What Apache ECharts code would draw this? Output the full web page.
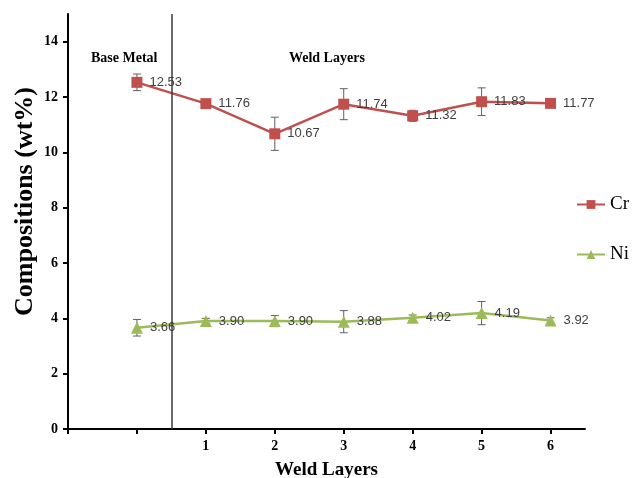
<!DOCTYPE html>
<html>
<head>
<meta charset="utf-8">
<script src="https://cdn.jsdelivr.net/npm/echarts@6/dist/echarts.min.js"></script>
<style>html,body{margin:0;padding:0;background:#fff}#c{width:632px;height:478px}</style>
</head>
<body>
<div id="c"></div>
<script>
// x positions: 0 = Base Metal, 1..6 = weld layers
const xPos = [0, 1, 2, 3, 4, 5, 6];
const xTickLabels = [1, 2, 3, 4, 5, 6];
const crValues = [12.53, 11.76, 10.67, 11.74, 11.32, 11.83, 11.77];
const crErr = [0.3, 0.1, 0.6, 0.56, 0.2, 0.5, 0.1];
const niValues = [3.66, 3.90, 3.90, 3.88, 4.02, 4.19, 3.92];
const niErr = [0.3, 0.1, 0.2, 0.4, 0.1, 0.42, 0.1];
const yTickValues = [0, 2, 4, 6, 8, 10, 12, 14];
const dividerX = 0.5;

const serif = '"Liberation Serif", "Times New Roman", serif';
const crColor = '#c0504d';
const niColor = '#9bbb59';

function pairs(vals) { return xPos.map((x, i) => [x, vals[i]]); }
function errData(vals, errs) { return xPos.map((x, i) => [x, vals[i] - errs[i], vals[i] + errs[i]]); }

function errRender(params, api) {
  const lo = api.coord([api.value(0), api.value(1)]);
  const hi = api.coord([api.value(0), api.value(2)]);
  const w = 4;
  const style = { stroke: '#606060', lineWidth: 1 };
  return {
    type: 'group',
    children: [
      { type: 'line', shape: { x1: lo[0], y1: lo[1], x2: hi[0], y2: hi[1] }, style },
      { type: 'line', shape: { x1: lo[0] - w, y1: lo[1], x2: lo[0] + w, y2: lo[1] }, style },
      { type: 'line', shape: { x1: hi[0] - w, y1: hi[1], x2: hi[0] + w, y2: hi[1] }, style }
    ]
  };
}

const labelStyle = {
  show: true, position: 'right', distance: 7,
  fontFamily: '"Liberation Sans", Arial, sans-serif', fontSize: 13, color: '#404040',
  formatter: p => p.value[1].toFixed(2)
};

const chart = echarts.init(document.getElementById('c'), null, { renderer: 'canvas' });
chart.setOption({
  animation: false,
  backgroundColor: '#fff',
  grid: { left: 68, right: 47, top: 14, bottom: 49, containLabel: false, outerBoundsMode: 'none' },
  legend: {
    data: ['Cr', 'Ni'],
    orient: 'vertical',
    left: 576, top: 195, padding: 0,
    itemGap: 31, itemWidth: 28, itemHeight: 11,
    textStyle: { fontFamily: serif, fontSize: 19, color: '#000' }
  },
  graphic: [
    { type: 'text', left: 91, top: 51, style: { text: 'Base Metal', font: 'bold 14px ' + serif, fill: '#000' } },
    { type: 'text', left: 289, top: 51, style: { text: 'Weld Layers', font: 'bold 14px ' + serif, fill: '#000' } }
  ],
  xAxis: {
    type: 'value', min: -1, max: 6.5,
    name: 'Weld Layers', nameLocation: 'middle', nameGap: 32,
    nameTextStyle: { fontFamily: serif, fontWeight: 'bold', fontSize: 19, color: '#000' },
    axisLine: { show: true, onZero: false, lineStyle: { color: '#000', width: 2 } },
    axisTick: { show: true, length: 5, customValues: [-1].concat(xPos), lineStyle: { color: '#000', width: 2 } },
    axisLabel: { customValues: xTickLabels, margin: 10, fontFamily: serif, fontWeight: 'bold', fontSize: 14, color: '#000' },
    splitLine: { show: false }
  },
  yAxis: {
    type: 'value', min: 0, max: 15,
    name: 'Compositions (wt%)', nameLocation: 'middle', nameGap: 30, nameRotate: 90,
    nameMoveOverlap: false,
    nameTextStyle: { fontFamily: serif, fontWeight: 'bold', fontSize: 26, color: '#000', padding: [0, 0, 0, 40] },
    axisLine: { show: true, onZero: false, lineStyle: { color: '#000', width: 2 } },
    axisTick: { show: true, length: 5, customValues: yTickValues, lineStyle: { color: '#000', width: 2 } },
    axisLabel: { customValues: yTickValues, margin: 10, fontFamily: serif, fontWeight: 'bold', fontSize: 14, color: '#000' },
    splitLine: { show: false }
  },
  series: [
    {
      name: 'Cr err', type: 'custom', renderItem: errRender, data: errData(crValues, crErr), z: 3,
      encode: { x: 0, y: [1, 2] }, silent: true
    },
    {
      name: 'Ni err', type: 'custom', renderItem: errRender, data: errData(niValues, niErr), z: 3,
      encode: { x: 0, y: [1, 2] }, silent: true
    },
    {
      name: 'Cr', type: 'line', data: pairs(crValues), z: 4,
      symbol: 'rect', symbolSize: 11,
      itemStyle: { color: crColor }, lineStyle: { color: crColor, width: 2.5 },
      label: labelStyle,
      markLine: {
        silent: true, symbol: 'none', label: { show: false },
        lineStyle: { color: '#3a3a3a', width: 1.5, type: 'solid' },
        data: [{ xAxis: dividerX }]
      }
    },
    {
      name: 'Ni', type: 'line', data: pairs(niValues), z: 4,
      symbol: 'triangle', symbolSize: 12,
      itemStyle: { color: niColor }, lineStyle: { color: niColor, width: 2.5 },
      label: labelStyle
    }
  ]
});
</script>
</body>
</html>
